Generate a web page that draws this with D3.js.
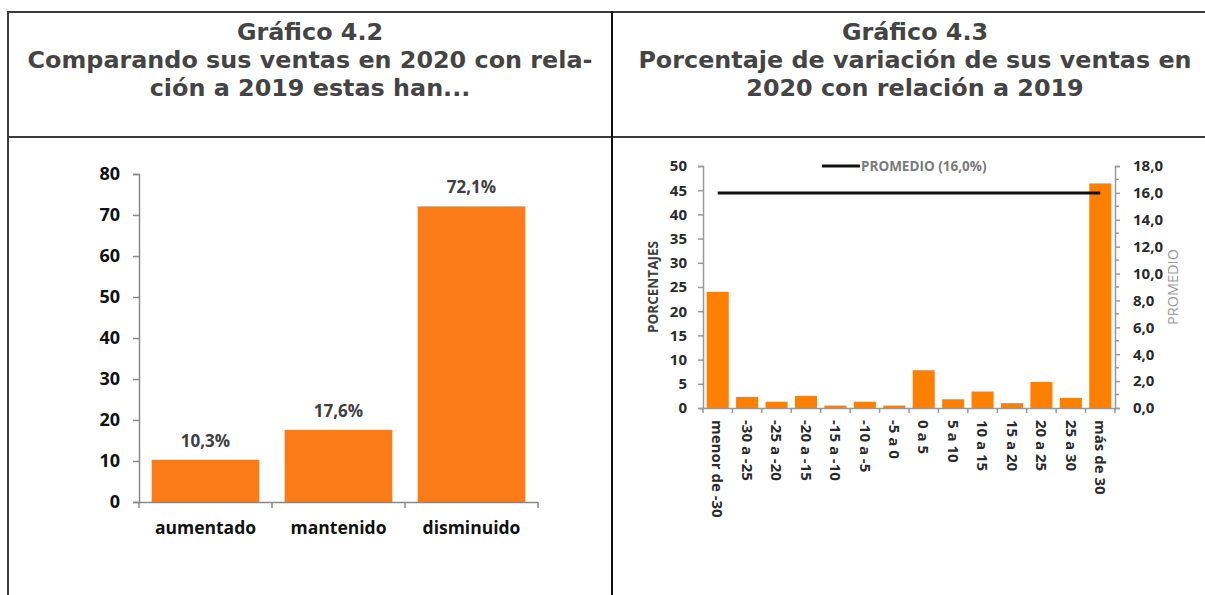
<!DOCTYPE html>
<html>
<head>
<meta charset="utf-8">
<script src="https://cdn.jsdelivr.net/npm/d3@7"></script>
<style>
  body { margin: 0; background: #fff; }
  svg { display: block; }
</style>
</head>
<body>
<div id="chart"></div>
<script>
// Gráfico 4.2
var cats1 = ["aumentado", "mantenido", "disminuido"];
var vals1 = [10.3, 17.6, 72.1];
var ticks1 = [0, 10, 20, 30, 40, 50, 60, 70, 80];

// Gráfico 4.3
var cats2 = ["menor de -30", "-30 a -25", "-25 a -20", "-20 a -15", "-15 a -10", "-10 a -5",
  "-5 a 0", "0 a 5", "5 a 10", "10 a 15", "15 a 20", "20 a 25", "25 a 30", "más de 30"];
var vals2 = [24.0, 2.3, 1.3, 2.5, 0.5, 1.3, 0.5, 7.8, 1.8, 3.4, 1.0, 5.4, 2.1, 46.4];
var ticksLeft2 = [0, 5, 10, 15, 20, 25, 30, 35, 40, 45, 50];
var ticksRight2 = [0, 2, 4, 6, 8, 10, 12, 14, 16, 18];
var promedio = 16.0;

var titles1 = ["Gráfico 4.2", "Comparando sus ventas en 2020 con rela-", "ción a 2019 estas han..."];
var titles2 = ["Gráfico 4.3", "Porcentaje de variación de sus ventas en", "2020 con relación a 2019"];

var width = 1205, height = 595;
var fmt = d3.format(".1f");
var comma = function (v) { return fmt(v).replace(".", ","); };

var svg = d3.select("#chart").append("svg")
    .attr("width", width)
    .attr("height", height);

svg.append("rect").attr("width", width).attr("height", height).attr("fill", "#fff");

// table frame
var frame = svg.append("g").attr("stroke", "#3c3c3c").attr("stroke-width", 2);
frame.append("line").attr("x1", 8).attr("x2", 1220).attr("y1", 12).attr("y2", 12);
frame.append("line").attr("x1", 8).attr("x2", 1220).attr("y1", 137).attr("y2", 137);
frame.append("line").attr("x1", 8).attr("x2", 8).attr("y1", 11).attr("y2", 600);
frame.append("line").attr("x1", 612).attr("x2", 612).attr("y1", 11).attr("y2", 600).attr("stroke", "#111");

// titles, sized to fit the header width
function drawTitles(lines, cx) {
  var g = svg.append("g")
      .attr("font-family", "'DejaVu Sans', Verdana, sans-serif")
      .attr("font-weight", "bold")
      .attr("fill", "#444")
      .attr("text-anchor", "middle");
  var t = g.selectAll("text").data(lines).enter().append("text")
      .attr("x", cx)
      .attr("y", function (d, i) { return 40 + i * 28; })
      .attr("font-size", 20)
      .text(function (d) { return d; });
  return t;
}
var t1 = drawTitles(titles1, 310);
var t2 = drawTitles(titles2, 915);
var w = t1.nodes()[1].getComputedTextLength();
var fs = 20 * 565 / w;
t1.attr("font-size", fs);
t2.attr("font-size", fs);

var font = "'Open Sans', 'Liberation Sans', sans-serif";

// ---------- chart 4.2 ----------
var x1 = d3.scaleBand().domain(cats1).range([139, 538]).paddingInner(0.19).paddingOuter(0.095);
var y1 = d3.scaleLinear().domain([0, 80]).range([502, 174]);

var c1 = svg.append("g");
c1.selectAll(".bar1").data(vals1).enter().append("rect")
    .attr("class", "bar1")
    .attr("x", function (d, i) { return x1(cats1[i]); })
    .attr("width", x1.bandwidth())
    .attr("y", function (d) { return y1(d); })
    .attr("height", function (d) { return y1(0) - y1(d); })
    .attr("fill", "#FA7B17");

c1.selectAll(".lab1").data(vals1).enter().append("text")
    .attr("class", "lab1")
    .attr("x", function (d, i) { return x1(cats1[i]) + x1.bandwidth() / 2; })
    .attr("y", function (d) { return y1(d) - 13; })
    .attr("text-anchor", "middle")
    .attr("font-family", font).attr("font-weight", "bold").attr("font-size", 17)
    .attr("fill", "#404040")
    .text(function (d) { return comma(d) + "%"; });

var ya1 = c1.append("g").attr("transform", "translate(139,0)")
    .call(d3.axisLeft(y1).tickValues(ticks1).tickSize(6).tickPadding(13).tickFormat(d3.format("d")));
ya1.selectAll("text").attr("font-family", font).attr("font-weight", "bold").attr("font-size", 18).attr("fill", "#111");

var xa1 = c1.append("g").attr("transform", "translate(0,502)")
    .call(d3.axisBottom(x1).tickSize(0).tickPadding(20));
xa1.selectAll("text").attr("font-family", font).attr("font-weight", "bold").attr("font-size", 17.5).attr("fill", "#111");
// boundary ticks
xa1.selectAll(".bt").data(d3.range(cats1.length + 1)).enter().append("line")
    .attr("class", "bt")
    .attr("x1", function (i) { return 139 + i * x1.step(); })
    .attr("x2", function (i) { return 139 + i * x1.step(); })
    .attr("y1", 0).attr("y2", 6);
c1.selectAll(".domain, line").attr("stroke", "#888").attr("stroke-width", 1.5);

// ---------- chart 4.3 ----------
var x2 = d3.scaleBand().domain(cats2).range([703, 1115]).paddingInner(0.25).paddingOuter(0.125);
var y2 = d3.scaleLinear().domain([0, 50]).range([408, 166]);
var y2r = d3.scaleLinear().domain([0, 18]).range([408, 166]);

var c2 = svg.append("g");
c2.selectAll(".bar2").data(vals2).enter().append("rect")
    .attr("class", "bar2")
    .attr("x", function (d, i) { return x2(cats2[i]); })
    .attr("width", x2.bandwidth())
    .attr("y", function (d) { return y2(d); })
    .attr("height", function (d) { return y2(0) - y2(d); })
    .attr("fill", "#FF7F00");

var ya2 = c2.append("g").attr("transform", "translate(703,0)")
    .call(d3.axisLeft(y2).tickValues(ticksLeft2).tickSize(5).tickPadding(11).tickFormat(d3.format("d")));
ya2.selectAll("text").attr("font-family", font).attr("font-weight", "bold").attr("font-size", 15).attr("fill", "#2a2a2a");

var ya2r = c2.append("g").attr("transform", "translate(1115,0)")
    .call(d3.axisRight(y2r).tickValues(ticksRight2).tickSize(5).tickPadding(13).tickFormat(comma));
ya2r.selectAll("text").attr("font-family", font).attr("font-weight", "bold").attr("font-size", 15).attr("fill", "#2a2a2a");
ya2r.selectAll(".minor").data(d3.range(1, 18, 2)).enter().append("line")
    .attr("class", "minor")
    .attr("x1", 0).attr("x2", 4)
    .attr("y1", function (d) { return y2r(d); }).attr("y2", function (d) { return y2r(d); });

var xa2 = c2.append("g").attr("transform", "translate(0,408)")
    .call(d3.axisBottom(x2).tickSize(0).tickPadding(0));
xa2.selectAll("text")
    .attr("transform", function () { return "translate(0,12) rotate(90)"; })
    .attr("y", 0).attr("dy", "0.35em")
    .attr("text-anchor", "start")
    .attr("font-family", font).attr("font-weight", "bold").attr("font-size", 15)
    .attr("fill", "#2a2a2a");
xa2.selectAll(".bt").data(d3.range(cats2.length + 1)).enter().append("line")
    .attr("class", "bt")
    .attr("x1", function (i) { return 703 + i * x2.step(); })
    .attr("x2", function (i) { return 703 + i * x2.step(); })
    .attr("y1", 0).attr("y2", 5);
c2.selectAll(".domain, line").attr("stroke", "#999").attr("stroke-width", 1.5);

// promedio line
var firstC = x2(cats2[0]) + x2.bandwidth() / 2;
var lastC = x2(cats2[cats2.length - 1]) + x2.bandwidth() / 2;
c2.append("line")
    .attr("x1", firstC).attr("x2", lastC)
    .attr("y1", y2r(promedio)).attr("y2", y2r(promedio))
    .attr("stroke", "#111").attr("stroke-width", 3);

// legend
c2.append("line").attr("x1", 822).attr("x2", 860).attr("y1", 166).attr("y2", 166)
    .attr("stroke", "#111").attr("stroke-width", 3);
c2.append("text").attr("x", 861).attr("y", 166).attr("dy", "0.35em")
    .attr("font-family", font).attr("font-weight", "bold").attr("font-size", 13.5)
    .attr("fill", "#7a7a7a")
    .text("PROMEDIO (" + comma(promedio) + "%)");

// axis titles
c2.append("text")
    .attr("transform", "translate(653,287) rotate(-90)")
    .attr("text-anchor", "middle").attr("dy", "0.35em")
    .attr("font-family", font).attr("font-weight", "bold").attr("font-size", 13.5)
    .attr("fill", "#404040")
    .text("PORCENTAJES");
c2.append("text")
    .attr("transform", "translate(1173,287) rotate(-90)")
    .attr("text-anchor", "middle").attr("dy", "0.35em")
    .attr("font-family", font).attr("font-size", 14.5)
    .attr("fill", "#9a9a9a")
    .text("PROMEDIO");
</script>
</body>
</html>
